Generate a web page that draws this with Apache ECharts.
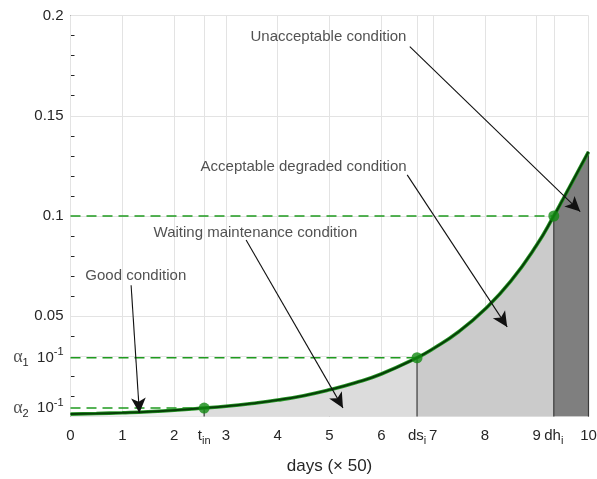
<!DOCTYPE html>
<html><head><meta charset="utf-8">
<script src="https://cdn.jsdelivr.net/npm/echarts@6/dist/echarts.min.js"></script>
<style>html,body{margin:0;padding:0;background:#fff}#c{width:597px;height:479px}</style>
</head><body><div id="c"></div>
<script>
// ---- data ----
const curveX = [0, 0.5, 1, 1.5, 2, 2.58, 3, 3.5, 4, 4.5, 5, 5.5, 6, 6.69, 7, 7.5, 8, 8.5, 9, 9.33, 9.5, 10];
const curveY = [0.0012, 0.0015, 0.0019, 0.0024, 0.0031, 0.0042, 0.0051, 0.0065, 0.0082, 0.0104, 0.0133, 0.0168, 0.0212, 0.0293, 0.0338, 0.0424, 0.0535, 0.0675, 0.0855, 0.1, 0.108, 0.132];
const tIn = 2.58, dsI = 6.69, dhI = 9.33, xEnd = 10;
const alpha1 = 0.0293, alpha2 = 0.0042, yHigh = 0.1;
const xTickValues = [0, 1, 2, tIn, 3, 4, 5, 6, dsI, 7, 8, 9, dhI, 10];
const xTickLabels = ['0', '1', '2', '{t|t}{s|in}', '3', '4', '5', '6', '{t|ds}{s|i}', '7', '8', '9', '{t|dh}{s|i}', '10'];
const yTickValues = [0, alpha2, alpha1, 0.05, 0.1, 0.15, 0.2];
const yTickLabels = ['0', '{a|α}{s|2}  {t|10}{p|-1}', '{a|α}{s|1}  {t|10}{p|-1}', '0.05', '0.1', '0.15', '0.2'];
const annotTexts = ['Good condition', 'Waiting maintenance condition', 'Acceptable degraded condition', 'Unacceptable condition'];
const annotTextAt = [[1.26, 0.0703], [3.57, 0.0915], [4.50, 0.1245], [4.98, 0.1895]];
const annotArrowFrom = [[1.17, 0.0655], [3.39, 0.0880], [6.50, 0.1205], [6.55, 0.1845]];
const annotArrowTo = [[1.33, 0.0018], [5.26, 0.0043], [8.43, 0.0447], [9.84, 0.1022]];

// ---- helpers ----
const pts = curveX.map((x, i) => [x, curveY[i]]);
const seg = (a, b) => pts.filter(p => p[0] >= a - 1e-9 && p[0] <= b + 1e-9);
const lookup = (vals, labels) => (v) => {
  for (let i = 0; i < vals.length; i++) if (Math.abs(vals[i] - v) < 1e-7) return labels[i];
  return '';
};
const TXT = '#262626';
const FONT = 'Liberation Sans';
const GREEN = '#1f9a1f';
const SMOOTH = 0.5;
const richBase = {
  t: {fontSize: 15, lineHeight: 20, color: TXT, fontFamily: FONT},
  s: {fontSize: 11, lineHeight: 11, padding: [11, 0, 0, 0], color: TXT, fontFamily: FONT},
  p: {fontSize: 11, lineHeight: 11, padding: [0, 0, 11, 0], color: TXT, fontFamily: FONT},
  a: {fontSize: 18, lineHeight: 20, color: '#555', fontFamily: 'Liberation Serif'}
};

const areaColors = ['#efefef', '#dcdcdc', '#cbcbcb', '#7f7f7f'];
const bounds = [0, tIn, dsI, dhI, xEnd];
const areaSeries = areaColors.map((c, i) => ({
  type: 'line', data: seg(bounds[i], bounds[i + 1]), smooth: SMOOTH, symbol: 'none',
  lineStyle: {width: 0}, areaStyle: {color: c, opacity: 1}, z: 2, silent: true
}));

const vertTops = [[tIn, alpha2], [dsI, alpha1], [dhI, yHigh], [xEnd, curveY[curveY.length - 1]]];
const vertSeries = vertTops.map(p => ({
  type: 'line', data: [[p[0], 0], p], symbol: 'none', lineStyle: {color: '#3a3a3a', width: 1.2}, z: 3, silent: true
}));

const dashSeries = [[tIn, alpha2], [dsI, alpha1], [dhI, yHigh]].map(p => ({
  type: 'line', data: [[0, p[1]], p], symbol: 'none',
  lineStyle: {color: GREEN, width: 1.5, type: [10, 6]}, z: 4, silent: true
}));

const option = {
  animation: false,
  backgroundColor: '#fff',
  grid: {left: 70.5, right: 8.5, top: 15.5, bottom: 62.5, containLabel: false, outerBoundsMode: 'none'},
  xAxis: {
    type: 'value', min: 0, max: 10,
    name: 'days (× 50)', nameLocation: 'middle', nameGap: 41,
    nameTextStyle: {fontSize: 17, color: TXT, fontFamily: FONT},
    axisLine: {show: true, lineStyle: {color: '#262626', width: 1}},
    axisTick: {show: true, inside: true, length: 4, customValues: xTickValues, lineStyle: {color: '#262626'}},
    axisLabel: {customValues: xTickValues, formatter: lookup(xTickValues, xTickLabels), fontSize: 15, lineHeight: 20,
      color: TXT, fontFamily: FONT, margin: 9, rich: richBase},
    splitLine: {show: false}
  },
  yAxis: {
    type: 'value', min: 0, max: 0.2, interval: 0.01,
    axisLine: {show: true, lineStyle: {color: '#262626', width: 1}},
    axisTick: {show: true, inside: true, length: 4, lineStyle: {color: '#262626'}},
    axisLabel: {customValues: yTickValues, formatter: lookup(yTickValues, yTickLabels), fontSize: 15,
      color: TXT, fontFamily: FONT, margin: 7, rich: richBase},
    splitLine: {show: false}
  },
  series: [
    {
      type: 'line', data: [], silent: true, z: 1,
      markLine: {
        silent: true, symbol: 'none', animation: false, z: 1,
        label: {show: false},
        lineStyle: {color: '#e3e3e3', width: 1, type: 'solid'},
        data: xTickValues.map(v => ({xAxis: v})).concat(yTickValues.filter(v => v > 0).map(v => ({yAxis: v})))
      }
    },
    ...areaSeries,
    ...vertSeries,
    ...dashSeries,
    {
      type: 'line', data: pts, smooth: SMOOTH, symbol: 'none',
      lineStyle: {color: '#2a9a2a', width: 3.6}, z: 5, silent: true
    },
    {
      type: 'line', data: pts, smooth: SMOOTH, symbol: 'none',
      lineStyle: {color: '#063f06', width: 2}, z: 6, silent: true
    },
    {
      type: 'scatter', data: [[tIn, alpha2], [dsI, alpha1], [dhI, yHigh]], symbol: 'circle', symbolSize: 11,
      itemStyle: {color: '#138a13'}, z: 7, silent: true
    },
    {
      type: 'line', data: [], silent: true, z: 8,
      markLine: {
        silent: true, animation: false, symbol: ['none', 'arrow'], symbolSize: [11, 15], z: 8,
        label: {show: false},
        lineStyle: {color: '#111', width: 1.1, type: 'solid'},
        data: annotArrowFrom.map((f, i) => [{coord: f}, {coord: annotArrowTo[i]}])
      }
    },
    {
      type: 'scatter', symbolSize: 0, z: 9, silent: true,
      data: annotTexts.map((t, i) => ({name: t, value: annotTextAt[i]})),
      label: {show: true, position: 'inside', formatter: '{b}', fontSize: 15, color: TXT, fontFamily: FONT}
    }
  ]
};
const chart = echarts.init(document.getElementById('c'), null, {renderer: 'canvas'});
chart.setOption(option);
</script></body></html>
